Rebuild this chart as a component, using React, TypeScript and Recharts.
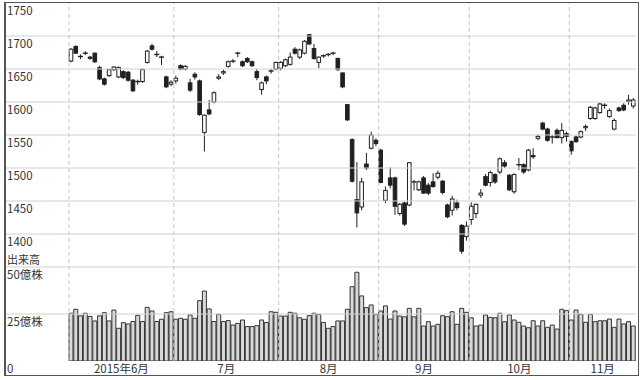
import React from "react";
import { Bar, ComposedChart, ReferenceLine, XAxis, YAxis } from "recharts";

// months shown on the axis and trading days in each
const monthLabels = ["2015年6月", "7月", "8月", "9月", "10月", "11月"];
const monthDays = [22, 22, 21, 19, 21, 14];

// daily candles, one value per trading day (Jun .. Nov)
const opens = [
  1662, 1684, 1669, 1673, 1668, 1674, 1652, 1635, 1640, 1649, 1638, 1646, 1645, 1633, 1630, 1631, 1660, 1685, 1672, 1668, 1638, 1627,
  1632, 1655, 1650, 1629, 1642, 1632, 1554, 1588, 1600, 1636, 1644, 1654, 1661, 1673, 1661, 1666, 1661, 1646, 1619, 1638, 1646, 1650,
  1651, 1655, 1657, 1680, 1668, 1674, 1702, 1681, 1660, 1669, 1671, 1673, 1666, 1644, 1596, 1543, 1452, 1441, 1506, 1530, 1542,
  1527, 1451, 1485, 1485, 1431, 1447, 1444, 1479, 1467, 1485, 1474, 1479, 1486, 1480, 1444, 1436, 1447, 1413, 1396,
  1422, 1431, 1459, 1487, 1478, 1490, 1494, 1508, 1489, 1464, 1504, 1505, 1497, 1519, 1545, 1568, 1559, 1547, 1557, 1546, 1552,
  1540, 1547, 1547, 1561, 1575, 1575, 1584, 1595, 1578, 1559, 1591, 1595, 1601, 1594,
];
const highs = [
  1682, 1686, 1672, 1677, 1670, 1675, 1655, 1637, 1650, 1654, 1654, 1648, 1647, 1635, 1634, 1651, 1679, 1688, 1677, 1670, 1640, 1633,
  1640, 1657, 1656, 1635, 1645, 1634, 1581, 1603, 1616, 1642, 1649, 1663, 1665, 1676, 1663, 1668, 1663, 1650, 1631, 1640, 1650, 1661,
  1662, 1666, 1675, 1683, 1681, 1694, 1703, 1688, 1669, 1672, 1674, 1676, 1667, 1645, 1597, 1545, 1509, 1485, 1523, 1555, 1545,
  1529, 1472, 1501, 1487, 1447, 1449, 1509, 1482, 1481, 1488, 1477, 1492, 1496, 1482, 1446, 1458, 1452, 1415, 1419,
  1448, 1446, 1468, 1491, 1496, 1492, 1516, 1512, 1491, 1492, 1515, 1507, 1529, 1530, 1551, 1570, 1561, 1550, 1560, 1568, 1555,
  1542, 1549, 1557, 1566, 1594, 1593, 1599, 1598, 1590, 1575, 1593, 1598, 1611, 1606,
];
const lows = [
  1660, 1673, 1665, 1671, 1664, 1659, 1633, 1625, 1638, 1647, 1636, 1635, 1631, 1615, 1626, 1629, 1658, 1678, 1668, 1656, 1621, 1624,
  1628, 1648, 1648, 1615, 1634, 1579, 1525, 1580, 1598, 1633, 1641, 1652, 1659, 1668, 1653, 1659, 1653, 1633, 1611, 1627, 1643, 1648,
  1648, 1653, 1655, 1672, 1665, 1672, 1686, 1664, 1651, 1667, 1669, 1671, 1647, 1621, 1571, 1478, 1410, 1436, 1497, 1528, 1533,
  1477, 1447, 1469, 1429, 1428, 1412, 1442, 1466, 1465, 1461, 1459, 1470, 1483, 1460, 1424, 1428, 1436, 1370, 1390,
  1414, 1424, 1455, 1472, 1472, 1476, 1491, 1500, 1465, 1461, 1497, 1491, 1495, 1514, 1542, 1557, 1540, 1537, 1545, 1537, 1540,
  1520, 1538, 1545, 1556, 1573, 1573, 1582, 1590, 1576, 1557, 1585, 1586, 1596, 1590,
];
const closes = [
  1680, 1674, 1668, 1674, 1666, 1661, 1635, 1627, 1649, 1653, 1652, 1637, 1633, 1617, 1631, 1649, 1677, 1680, 1671, 1667, 1623, 1630,
  1636, 1650, 1654, 1618, 1638, 1581, 1580, 1582, 1614, 1638, 1646, 1661, 1662, 1674, 1655, 1661, 1655, 1637, 1629, 1632, 1647, 1660,
  1660, 1664, 1668, 1674, 1679, 1692, 1688, 1666, 1668, 1670, 1672, 1674, 1649, 1623, 1573, 1480, 1432, 1479, 1500, 1550, 1537,
  1478, 1466, 1474, 1442, 1445, 1415, 1508, 1478, 1479, 1462, 1462, 1472, 1492, 1463, 1426, 1453, 1440, 1374, 1412,
  1442, 1445, 1462, 1474, 1493, 1479, 1514, 1503, 1467, 1490, 1505, 1494, 1527, 1517, 1548, 1559, 1542, 1546, 1546, 1557, 1548,
  1526, 1540, 1555, 1563, 1592, 1591, 1597, 1594, 1587, 1572, 1587, 1588, 1603, 1603,
];
// 出来高, 億株
const volumes = [
  25.4, 27.5, 24.0, 25.4, 23.7, 21.3, 24.0, 25.7, 21.3, 27.1, 17.4, 20.4, 19.7, 21.0, 24.3, 21.0, 28.5, 26.6, 21.0, 22.2, 25.7, 26.2,
  22.2, 22.7, 22.2, 24.5, 22.7, 32.1, 37.2, 27.7, 21.0, 24.8, 21.0, 21.5, 19.1, 20.0, 21.8, 18.3, 18.3, 18.8, 21.8, 20.5, 26.2, 25.9,
  23.9, 23.9, 25.9, 25.4, 23.0, 22.2, 24.1, 25.4, 24.8, 20.5, 17.4, 18.3, 21.3, 21.3, 27.5, 39.5, 47.2, 34.6, 28.4, 29.8, 24.8,
  26.6, 29.3, 22.3, 26.6, 23.9, 23.5, 28.0, 23.5, 28.0, 18.6, 20.9, 18.6, 19.5, 24.1, 23.6, 26.2, 19.5, 28.0, 25.9,
  23.0, 18.6, 19.1, 24.5, 23.2, 23.0, 25.4, 20.9, 24.5, 21.8, 20.6, 18.6, 17.7, 21.4, 18.6, 21.4, 17.9, 19.1, 17.0, 27.5, 26.8,
  21.8, 27.1, 24.8, 20.6, 24.8, 20.9, 21.4, 21.4, 22.3, 17.9, 22.3, 19.7, 20.9, 18.6,
];

const priceTicks = [1400, 1450, 1500, 1550, 1600, 1650, 1700, 1750];
const volTicks = [0, 25, 50];
const volLabels = ["0", "25億株", "50億株"];

const FONT = "'Noto Sans CJK JP', 'Noto Sans', sans-serif";
const INK = "#231f20";
const TEXT = "#333";

const data = closes.map((c, i) => ({
  x: i + 0.5,
  range: [lows[i], highs[i]],
  open: opens[i],
  high: highs[i],
  low: lows[i],
  close: c,
  vol: volumes[i],
}));

const monthStarts: number[] = [];
monthDays.reduce((acc, d) => {
  monthStarts.push(acc);
  return acc + d;
}, 0);
const monthMids = monthStarts.map((s, i) => s + monthDays[i] / 2);
const totalDays = monthDays.reduce((a, b) => a + b, 0);

const X_DOMAIN = [-13.43, totalDays];
const P_DOMAIN = [1207.6, 1750];
const V_DOMAIN = [0, 190.4];

const Candle = (props: any) => {
  const { x, y, width, height, payload } = props;
  if (!payload) return null;
  const { open, close, high, low } = payload;
  const top = Math.min(y, y + height);
  const h = Math.abs(height);
  const k = high > low ? h / (high - low) : 0;
  const py = (v: number) => top + (high - v) * k;
  const cx = x + width / 2;
  const bTop = py(Math.max(open, close));
  const bBot = py(Math.min(open, close));
  const up = close >= open;
  return (
    <g>
      <line x1={cx} x2={cx} y1={top} y2={top + h} stroke={INK} strokeWidth={1} />
      {bBot - bTop < 1.2 ? (
        <line x1={cx - 2.5} x2={cx + 2.5} y1={bTop} y2={bTop} stroke={INK} strokeWidth={1.4} />
      ) : (
        <rect
          x={cx - 1.8}
          y={bTop}
          width={3.6}
          height={bBot - bTop}
          fill={up ? "#fff" : INK}
          stroke={INK}
          strokeWidth={1}
        />
      )}
    </g>
  );
};

// label drawn just under a horizontal line, at the left edge of the plot
const lineLabel = (text: string, above?: string) => (p: any) => {
  const vb = p.viewBox || {};
  return (
    <g>
      {above && (
        <text x={7} y={vb.y - 3} fontSize={11} fill={TEXT} fontFamily={FONT}>
          {above}
        </text>
      )}
      <text x={7} y={vb.y + 12} fontSize={11.5} fill={TEXT} fontFamily={FONT}>
        {text}
      </text>
    </g>
  );
};

const MonthTick = (p: any) => (
  <text x={p.x} y={373} textAnchor="middle" fontSize={11.5} fill={TEXT} fontFamily={FONT}>
    {monthLabels[p.index]}
  </text>
);

export default function App() {
  return (
    <div style={{ position: "absolute", left: 0, top: 0, width: 640, height: 380, background: "#fff" }}>
      <ComposedChart width={640} height={380} data={data} margin={{ top: 3, right: 4, bottom: 5, left: 5 }}>
        <XAxis xAxisId="p" dataKey="x" type="number" domain={X_DOMAIN} allowDataOverflow hide />
        <XAxis
          xAxisId="v"
          dataKey="x"
          type="number"
          domain={X_DOMAIN}
          allowDataOverflow
          ticks={monthMids}
          interval={0}
          tick={MonthTick}
          tickLine={false}
          axisLine={{ stroke: "#3a3a3a", strokeWidth: 1.5 }}
          height={14}
        />
        <YAxis yAxisId="p" type="number" domain={P_DOMAIN} allowDataOverflow hide />
        <YAxis yAxisId="v" type="number" domain={V_DOMAIN} allowDataOverflow hide />

        {priceTicks.map((t) => (
          <ReferenceLine
            key={"p" + t}
            xAxisId="v"
            yAxisId="p"
            y={t}
            stroke={t === 1750 ? "none" : "#d2d2d2"}
            strokeWidth={1.2}
            label={lineLabel(String(t))}
          />
        ))}
        {volTicks.map((t, i) => (
          <ReferenceLine
            key={"v" + t}
            xAxisId="v"
            yAxisId="v"
            y={t}
            stroke={t === 0 ? "none" : "#d2d2d2"}
            strokeWidth={1.2}
            label={lineLabel(volLabels[i], t === 50 ? "出来高" : undefined)}
          />
        ))}
        {monthStarts.map((s) => (
          <ReferenceLine
            key={"m" + s}
            xAxisId="v"
            yAxisId="v"
            x={s}
            stroke="#c4c4c4"
            strokeDasharray="4 3"
          />
        ))}

        <Bar
          xAxisId="v"
          yAxisId="v"
          dataKey="vol"
          barSize={4}
          fill="#d9d9d9"
          stroke="#333"
          strokeWidth={1}
          isAnimationActive={false}
        />
        <Bar xAxisId="p" yAxisId="p" dataKey="range" barSize={4} shape={Candle} isAnimationActive={false} />
      </ComposedChart>
      <div
        style={{
          position: "absolute",
          left: 4,
          top: 2,
          width: 632,
          height: 372,
          borderTop: "1px solid #555",
          borderRight: "1px solid #555",
          borderBottom: "1.5px solid #555",
          borderLeft: "2px solid #555",
          pointerEvents: "none",
        }}
      />
    </div>
  );
}
